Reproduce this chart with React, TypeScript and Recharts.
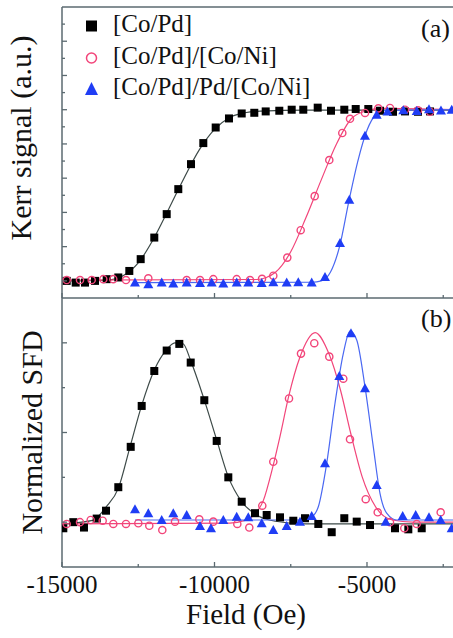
import { ComposedChart, Line, Scatter, XAxis, YAxis, ReferenceLine, Legend } from 'recharts';

type Pt = [number, number];

const AXIS = '#5b6a70';
const PINK = '#f2457a';
const BLUE = '#1f3df5';
const FONT = 'Liberation Serif';
const txt = { fontFamily: FONT, fill: '#111' };

const seriesNames = ['[Co/Pd]', '[Co/Pd]/[Co/Ni]', '[Co/Pd]/Pd/[Co/Ni]'];
const xTicks = [-15000, -12500, -10000, -7500, -5000, -2500];
const kerrTicks = [0, 0.1, 0.2, 0.3, 0.4, 0.5, 0.6, 0.7, 0.8, 0.9, 1, 1.1, 1.2, 1.3, 1.4, 1.5];
const sfdTicks = [0, 0.25, 0.5, 0.75, 1];

// (a) Kerr loops: measured points [field Oe, signal]
const kerrCoPd: Pt[] = [
  [-14846, 0.0], [-14551, -0.01], [-14246, -0.01], [-13918, 0.0], [-13535, 0.01], [-13154, 0.02],
  [-12793, 0.058], [-12420, 0.127], [-11974, 0.253], [-11567, 0.39], [-11187, 0.536], [-10770, 0.682],
  [-10367, 0.805], [-9961, 0.896], [-9525, 0.949], [-9108, 0.978], [-8695, 0.982], [-8321, 0.99],
  [-7875, 0.994], [-7469, 1.0], [-7089, 1.0], [-6616, 1.012], [-6180, 0.994], [-5744, 1.0],
  [-5370, 1.004], [-4957, 1.004], [-4574, 0.994], [-4147, 0.988], [-3754, 0.99], [-3328, 0.988], [-2934, 0.99],
];
const kerrCoPdCoNi: Pt[] = [
  [-14846, 0.005], [-14410, 0.005], [-14026, 0.005], [-13646, 0.01], [-13318, 0.01], [-12902, 0.005],
  [-12170, 0.015], [-10912, 0.005], [-10475, 0.005], [-10039, 0.01], [-9272, 0.01], [-8836, 0.005],
  [-8442, 0.012], [-8072, 0.03], [-7613, 0.136], [-7174, 0.296], [-6715, 0.495], [-6236, 0.706],
  [-5810, 0.864], [-5557, 0.947], [-5065, 0.981], [-4629, 1.008], [-4246, 1.01], [-3754, 1.0],
  [-3328, 0.996], [-2934, 0.988],
];
const kerrCoPdPdCoNi: Pt[] = [
  [-12607, -0.01], [-12170, -0.02], [-11731, -0.01], [-11351, -0.015], [-10912, -0.01], [-10475, -0.012],
  [-10092, -0.01], [-9711, -0.015], [-9272, -0.01], [-8892, -0.01], [-8452, -0.012], [-8072, -0.008],
  [-7633, -0.01], [-7253, -0.008], [-6813, -0.01], [-6377, 0.023], [-5885, 0.222], [-5580, 0.474],
  [-5066, 0.848], [-4682, 0.971], [-4328, 0.99], [-3809, 0.997], [-3370, 0.993], [-2967, 1.002],
  [-2574, 0.996], [-2223, 1.0],
];

// (a) fitted curves
const kerrFitCoPd: Pt[] = [
  [-15000, 0.0], [-13500, 0.005], [-13000, 0.03], [-12500, 0.105], [-12000, 0.245], [-11500, 0.42],
  [-11000, 0.6], [-10500, 0.765], [-10000, 0.885], [-9500, 0.955], [-9000, 0.982], [-8500, 0.992],
  [-7000, 0.997], [-2180, 0.997],
];
const kerrFitCoPdCoNi: Pt[] = [
  [-15000, 0.005], [-8600, 0.008], [-8300, 0.02], [-8000, 0.05], [-7500, 0.17], [-7000, 0.37],
  [-6500, 0.59], [-6000, 0.8], [-5500, 0.95], [-5000, 0.995], [-4500, 1.008], [-2180, 1.0],
];
const kerrFitCoPdPdCoNi: Pt[] = [
  [-12607, -0.01], [-6800, -0.008], [-6500, 0.0], [-6200, 0.05], [-5900, 0.2], [-5600, 0.46],
  [-5300, 0.7], [-5000, 0.88], [-4700, 0.975], [-4500, 0.995], [-2180, 1.0],
];

// (b) switching field distributions: measured points [field Oe, normalized SFD]
const sfdCoPd: Pt[] = [
  [-14957, -0.034], [-14629, 0.0], [-14279, -0.03], [-13862, 0.02], [-13557, 0.064], [-13154, 0.195],
  [-12747, 0.42], [-12387, 0.648], [-11974, 0.843], [-11567, 0.957], [-11154, 0.994], [-10780, 0.89],
  [-10334, 0.68], [-9928, 0.453], [-9547, 0.25], [-9108, 0.114], [-8672, 0.05], [-8289, 0.04],
  [-7852, 0.027], [-7416, 0.008], [-7033, 0.022], [-6596, -0.01], [-6157, -0.056], [-5744, 0.022],
  [-5337, 0.003], [-4901, -0.016], [-4082, -0.034], [-3645, -0.04], [-3206, -0.034],
];
const sfdCoPdCoNi: Pt[] = [
  [-14846, -0.01], [-14410, 0.0], [-14059, 0.012], [-13666, 0.008], [-13318, -0.01], [-12902, -0.01],
  [-12498, -0.006], [-12138, -0.02], [-11711, -0.044], [-11295, 0.003], [-10498, 0.016], [-10039, 0.003],
  [-9252, -0.01], [-8859, -0.03], [-8433, 0.092], [-8072, 0.337], [-7557, 0.69], [-7164, 0.94],
  [-6728, 0.998], [-6236, 0.923], [-5777, 0.8], [-5557, 0.462], [-5042, 0.128], [-4649, 0.055],
  [-4246, 0.0], [-3777, -0.034], [-3370, -0.01], [-2584, 0.055],
];
const sfdCoPdPdCoNi: Pt[] = [
  [-12607, 0.072], [-12170, 0.05], [-11731, 0.012], [-11351, 0.05], [-10912, 0.04], [-10475, -0.021],
  [-10115, -0.034], [-9711, 0.012], [-9272, 0.03], [-8892, 0.027], [-8452, -0.006], [-8072, -0.044],
  [-7633, -0.021], [-7197, 0.003], [-6813, 0.035], [-6377, 0.328], [-5908, 0.815], [-5525, 1.053],
  [-5066, 0.747], [-4682, 0.207], [-4387, 0.003], [-3830, 0.035], [-3403, 0.04], [-2967, 0.027],
  [-2584, 0.012], [-2223, -0.034],
];

// (b) fitted curves
const sfdFitCoPd: Pt[] = [
  [-15000, -0.01], [-14000, 0.01], [-13550, 0.085], [-13150, 0.19], [-12770, 0.42], [-12390, 0.65],
  [-11970, 0.85], [-11590, 0.958], [-11300, 1.0], [-11030, 0.995], [-10780, 0.9], [-10370, 0.7],
  [-9930, 0.46], [-9550, 0.254], [-9110, 0.115], [-8620, 0.04], [-8000, 0.005], [-7000, -0.01], [-2180, -0.01],
];
const sfdFitCoPdCoNi: Pt[] = [
  [-15000, -0.01], [-9500, -0.005], [-9000, 0.01], [-8700, 0.04], [-8400, 0.12], [-8100, 0.3],
  [-7850, 0.48], [-7570, 0.7], [-7200, 0.92], [-6700, 1.057], [-6250, 0.94], [-5870, 0.737],
  [-5540, 0.5], [-5160, 0.254], [-4720, 0.086], [-4170, 0.012], [-3500, 0.0], [-2180, 0.0],
];
const sfdFitCoPdPdCoNi: Pt[] = [
  [-12607, 0.012], [-7200, 0.012], [-6813, 0.03], [-6596, 0.086], [-6321, 0.328], [-6049, 0.663],
  [-5777, 0.94], [-5557, 1.065], [-5337, 1.016], [-5066, 0.756], [-4793, 0.42], [-4574, 0.161],
  [-4355, 0.05], [-4027, 0.012], [-2180, 0.012],
];

const rows = (pts: Pt[]) => pts.map(([x, y]) => ({ x, y }));

const Square = (p: any) => <rect x={p.cx - 4} y={p.cy - 4} width={8} height={8} fill="#000" />;
const Ring = (p: any) => <circle cx={p.cx} cy={p.cy} r={3.6} fill="none" stroke={PINK} strokeWidth={1.4} />;
const Tri = (p: any) => (
  <polygon points={`${p.cx},${p.cy - 5} ${p.cx - 5},${p.cy + 4} ${p.cx + 5},${p.cy + 4}`} fill={BLUE} />
);

const xTick = (withLabels: boolean) => (p: any) => {
  const major = p.payload.value % 5000 === 0;
  return (
    <g>
      <line x1={p.x} x2={p.x} y1={p.y} y2={p.y - (major ? 5 : 3)} stroke={AXIS} strokeWidth={1.3} />
      {withLabels && major && (
        <text x={p.x} y={p.y + 26} textAnchor="middle" fontFamily={FONT} fontSize={25} fill="#111">
          {p.payload.value}
        </text>
      )}
    </g>
  );
};

const yTick = (step: number) => (p: any) => {
  const major = Math.round(p.payload.value / step) % 2 === 0;
  return <line x1={p.x} x2={p.x + (major ? 5 : 3)} y1={p.y} y2={p.y} stroke={AXIS} strokeWidth={1.3} />;
};

const yTitle = (text: string, dx: number, dy: number) => (p: any) => {
  const vb = p.viewBox;
  const cx = vb.x + dx;
  const cy = vb.y + vb.height / 2 + dy;
  return (
    <text x={cx} y={cy} transform={`rotate(-90, ${cx}, ${cy})`} textAnchor="middle" style={{ ...txt, fontSize: 30 }}>
      {text}
    </text>
  );
};

const legendContent = () => (
  <svg width={453} height={110} style={{ display: 'block' }}>
    <rect x={86} y={20.5} width={11} height={11} fill="#000" />
    <circle cx={91.5} cy={58} r={5} fill="none" stroke={PINK} strokeWidth={1.5} />
    <polygon points="91.5,82 85,95 98,95" fill={BLUE} />
    {seriesNames.map((n, i) => (
      <text key={n} x={113} y={32 + i * 31.5} style={{ ...txt, fontSize: 25 }}>
        {n}
      </text>
    ))}
    <text x={421} y={37} style={{ ...txt, fontSize: 26 }}>(a)</text>
  </svg>
);

const lineProps = { type: 'monotone' as const, dataKey: 'y', dot: false, isAnimationActive: false, strokeWidth: 1.2 };

export default function App() {
  return (
    <div style={{ position: 'absolute', left: 0, top: 0, width: 453, height: 638, background: '#fff', overflow: 'hidden', fontFamily: FONT }}>
      <div style={{ position: 'absolute', left: 0, top: 0 }}>
        <ComposedChart width={453} height={300} margin={{ top: 7, right: 0, bottom: 0, left: 0 }}>
          <XAxis
            dataKey="x" type="number" domain={[-15000, -2180]} allowDataOverflow ticks={xTicks} interval={0}
            height={2} tickSize={0} tickMargin={0} tickLine={false} tick={xTick(false)}
            axisLine={{ stroke: AXIS, strokeWidth: 1.5 }}
          />
          <YAxis
            dataKey="y" type="number" domain={[-0.1, 1.6]} allowDataOverflow ticks={kerrTicks} interval={0}
            width={62} tickSize={0} tickMargin={0} tickLine={false} tick={yTick(0.1)}
            axisLine={{ stroke: AXIS, strokeWidth: 1.5 }}
            label={{ content: yTitle('Kerr signal (a.u.)', 31, -14.5) }}
          />
          <ReferenceLine y={1.6} stroke={AXIS} strokeWidth={1.5} />
          <Line {...lineProps} data={rows(kerrFitCoPd)} stroke="#3d4a48" />
          <Line {...lineProps} data={rows(kerrFitCoPdCoNi)} stroke={PINK} />
          <Line {...lineProps} data={rows(kerrFitCoPdPdCoNi)} stroke="#4a68f2" />
          <Scatter data={rows(kerrCoPd)} shape={Square} isAnimationActive={false} />
          <Scatter data={rows(kerrCoPdCoNi)} shape={Ring} isAnimationActive={false} />
          <Scatter data={rows(kerrCoPdPdCoNi)} shape={Tri} isAnimationActive={false} />
          <Legend
            layout="horizontal" verticalAlign="middle" align="center" content={legendContent}
            wrapperStyle={{ position: 'absolute', left: 0, top: 0, width: 453, height: 110 }}
          />
        </ComposedChart>
      </div>
      <div style={{ position: 'absolute', left: 0, top: 298 }}>
        <ComposedChart width={453} height={340} margin={{ top: 0, right: 0, bottom: 0, left: 0 }}>
          <XAxis
            dataKey="x" type="number" domain={[-15000, -2180]} allowDataOverflow ticks={xTicks} interval={0}
            height={71} tickSize={0} tickMargin={0} tickLine={false} tick={xTick(true)}
            axisLine={{ stroke: AXIS, strokeWidth: 1.5 }}
            label={{
              content: (p: any) => (
                <text x={p.viewBox.x + 184} y={p.viewBox.y + 57} textAnchor="middle" style={{ ...txt, fontSize: 29 }}>
                  Field (Oe)
                </text>
              ),
            }}
          />
          <YAxis
            dataKey="y" type="number" domain={[-0.25, 1.25]} allowDataOverflow ticks={sfdTicks} interval={0}
            width={62} tickSize={0} tickMargin={0} tickLine={false} tick={yTick(0.25)}
            axisLine={{ stroke: AXIS, strokeWidth: 1.5 }}
            label={{ content: yTitle('Normalized SFD', 42, 0) }}
          />
          <Line {...lineProps} data={rows(sfdFitCoPd)} stroke="#3d4a48" />
          <Line {...lineProps} data={rows(sfdFitCoPdCoNi)} stroke={PINK} />
          <Line {...lineProps} data={rows(sfdFitCoPdPdCoNi)} stroke="#4a68f2" />
          <Scatter data={rows(sfdCoPd)} shape={Square} isAnimationActive={false} />
          <Scatter data={rows(sfdCoPdCoNi)} shape={Ring} isAnimationActive={false} />
          <Scatter data={rows(sfdCoPdPdCoNi)} shape={Tri} isAnimationActive={false} />
          <Legend
            layout="horizontal" verticalAlign="middle" align="center"
            content={() => (
              <svg width={453} height={40} style={{ display: 'block' }}>
                <text x={421} y={29} style={{ ...txt, fontSize: 26 }}>(b)</text>
              </svg>
            )}
            wrapperStyle={{ position: 'absolute', left: 0, top: 0, width: 453, height: 40 }}
          />
        </ComposedChart>
      </div>
    </div>
  );
}
